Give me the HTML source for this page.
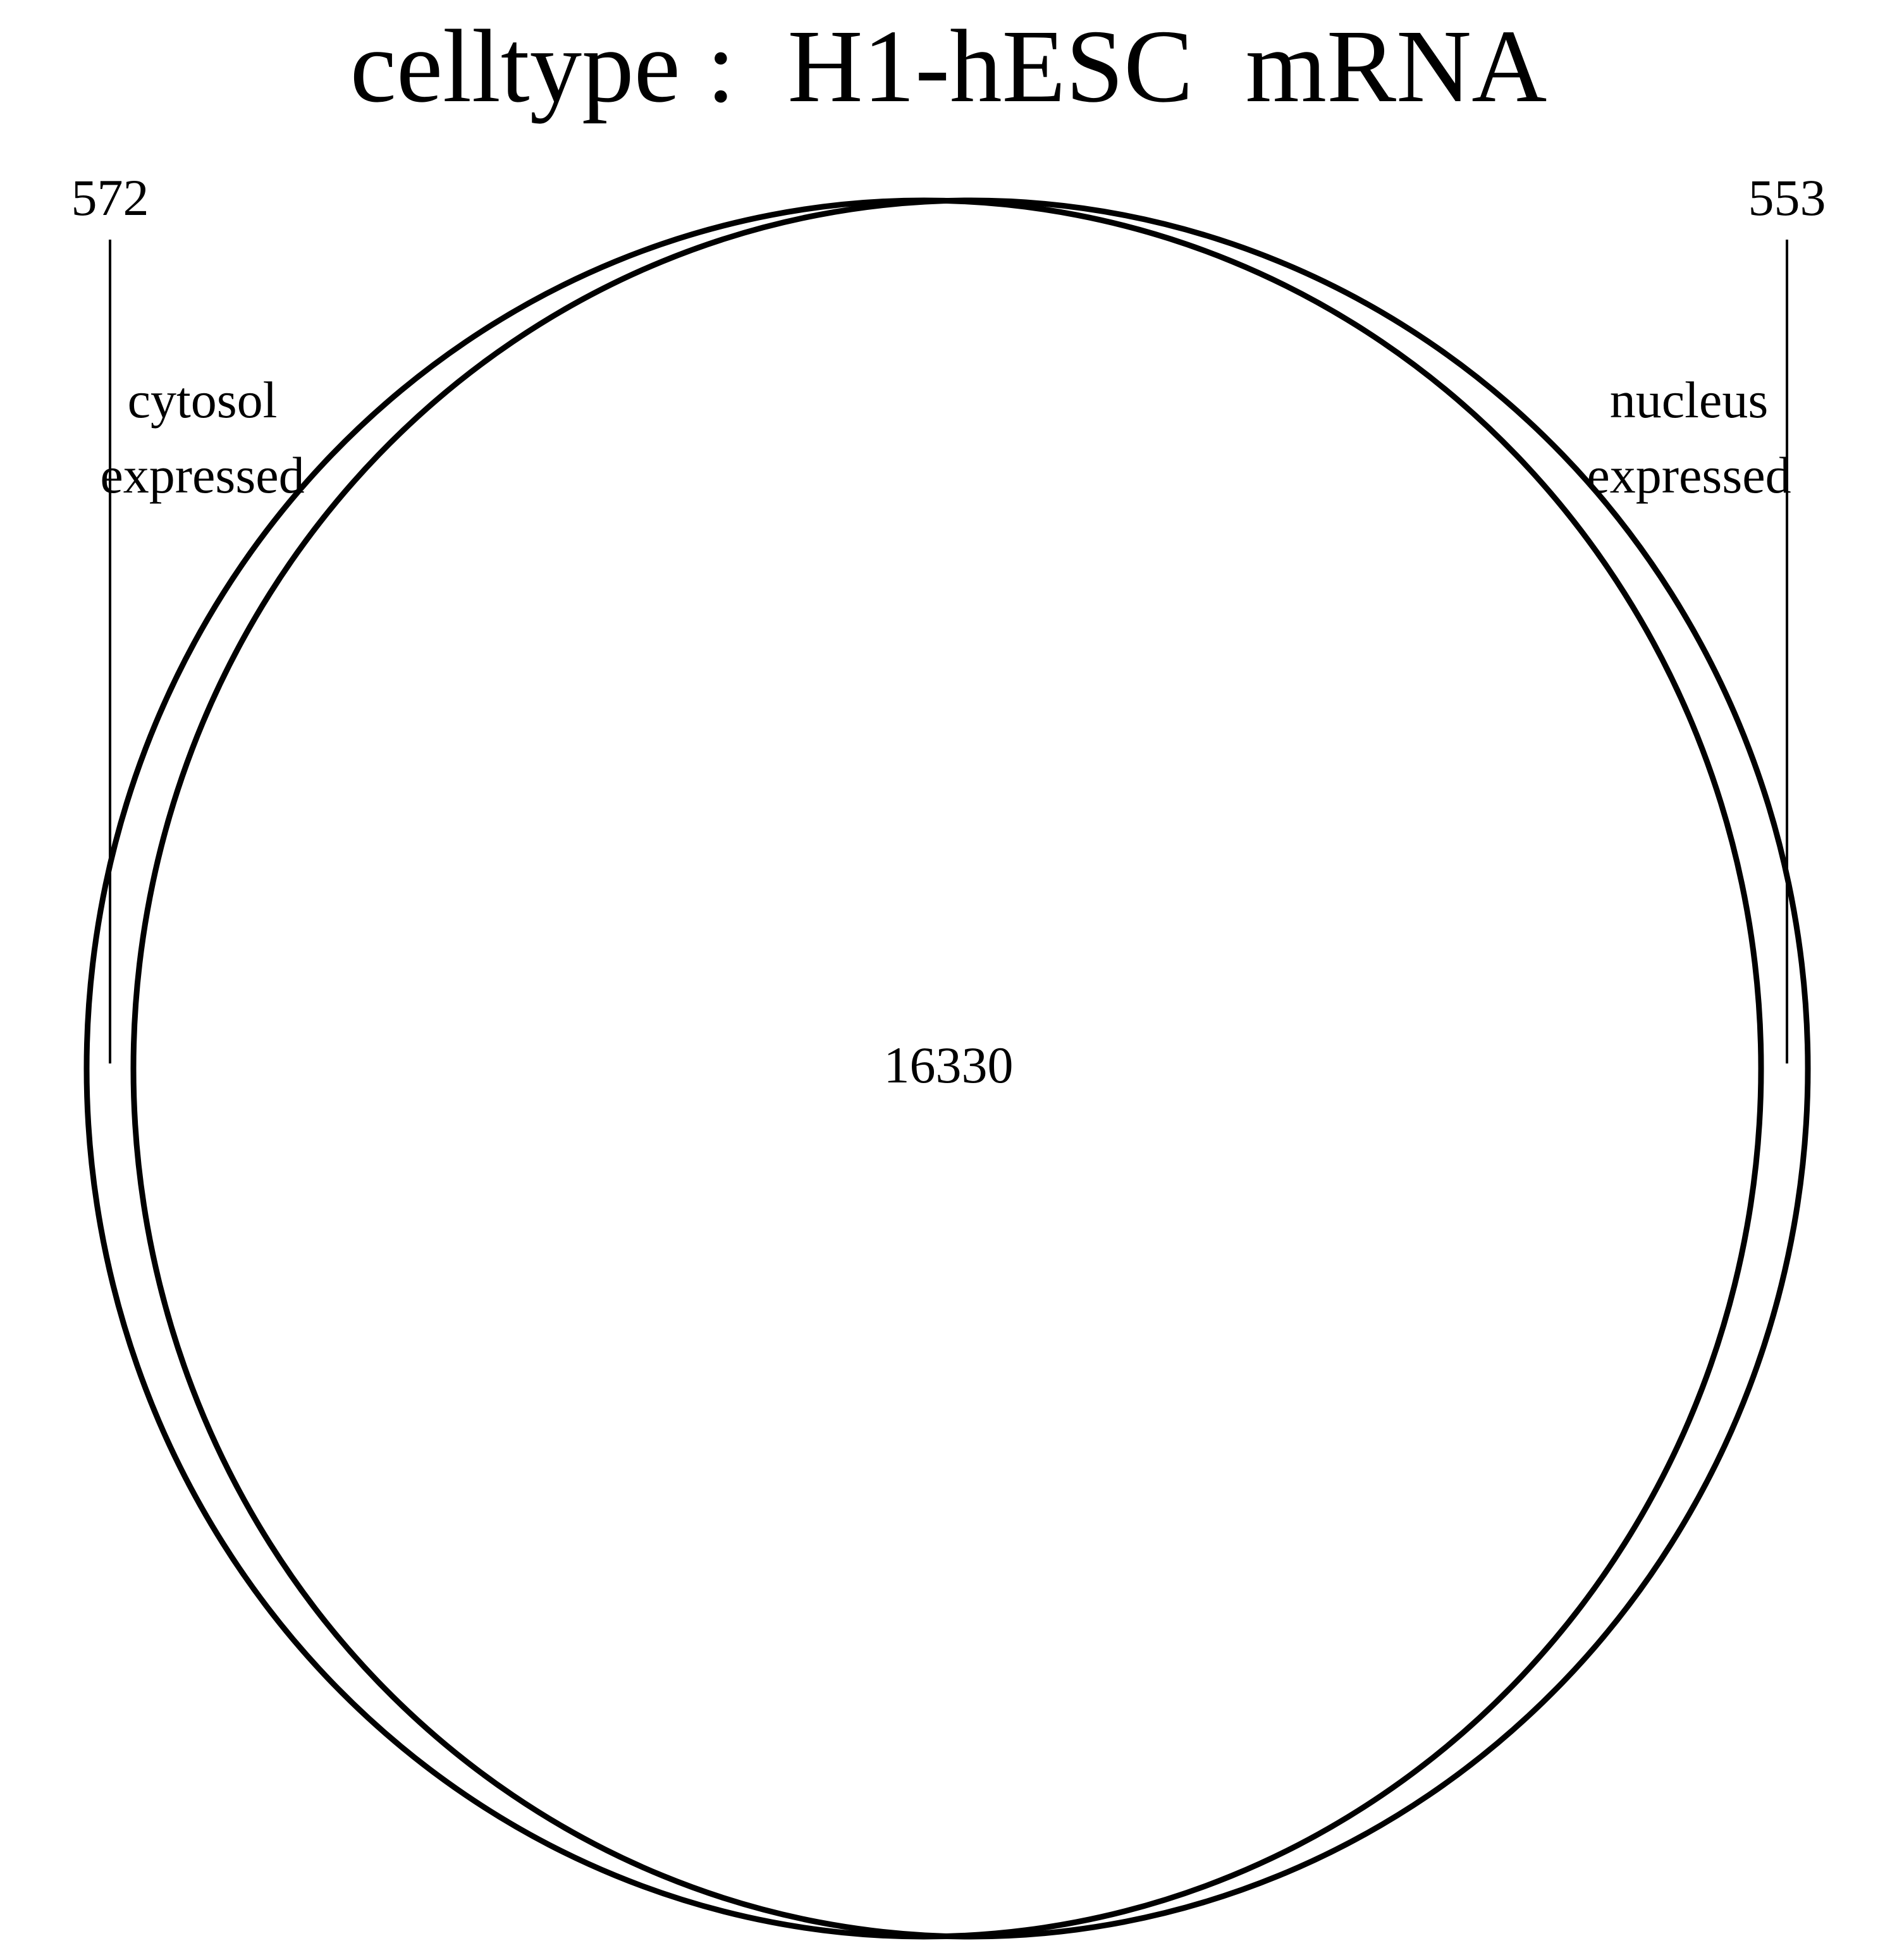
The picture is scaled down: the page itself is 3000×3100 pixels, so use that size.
<!DOCTYPE html>
<html><head><meta charset="utf-8"><style>html,body{margin:0;padding:0;background:#fff}svg{display:block}</style></head>
<body>
<svg width="3000" height="3100" viewBox="0 0 3000 3100" xmlns="http://www.w3.org/2000/svg" font-family="'Liberation Serif', serif">
<rect width="3000" height="3100" fill="#fff"/>
<text x="1500" y="160" font-size="165" text-anchor="middle" style="white-space:pre" xml:space="preserve">celltype :  H1-hESC  mRNA</text>
<g id="venn"></g>
<text x="1500" y="1712" font-size="82" text-anchor="middle">16330</text>
</svg>
<script>
const setNames = ["cytosol expressed", "nucleus expressed"];
const setCounts = [572, 553];
const overlapCount = [16330];
const g = document.getElementById('venn');
const NS = 'http://www.w3.org/2000/svg';
const rx = 1324, ry = 1373, cy = 1690;
const sep = 74 * (setCounts[0] + setCounts[1]) / 1125;
const cxs = [1498 - sep / 2, 1498 + sep / 2];
cxs.forEach((cx, i) => {
  const e = document.createElementNS(NS, 'ellipse');
  e.setAttribute('cx', cx); e.setAttribute('cy', cy);
  e.setAttribute('rx', rx); e.setAttribute('ry', ry);
  e.setAttribute('fill', 'none'); e.setAttribute('stroke', '#000'); e.setAttribute('stroke-width', '9');
  
  
  g.appendChild(e);
});
const tickX = [174, 2826];
const labelX = [320, 2671];
setCounts.forEach((c, i) => {
  const l = document.createElementNS(NS, 'line');
  l.setAttribute('x1', tickX[i]); l.setAttribute('x2', tickX[i]);
  l.setAttribute('y1', 379); l.setAttribute('y2', 1682);
  l.setAttribute('stroke', '#000'); l.setAttribute('stroke-width', '4');
  
  
  g.appendChild(l);
  const t = document.createElementNS(NS, 'text');
  t.setAttribute('x', tickX[i]); t.setAttribute('y', 340);
  t.setAttribute('font-size', '82'); t.setAttribute('text-anchor', 'middle');
  t.textContent = c;
  
  
  g.appendChild(t);
  const parts = setNames[i].split(' ');
  parts.forEach((p, j) => {
    const tt = document.createElementNS(NS, 'text');
    tt.setAttribute('x', labelX[i]); tt.setAttribute('y', 660 + j * 119);
    tt.setAttribute('font-size', '82'); tt.setAttribute('text-anchor', 'middle');
    tt.textContent = p;
    
    
    g.appendChild(tt);
  });
});
</script>
</body></html>
